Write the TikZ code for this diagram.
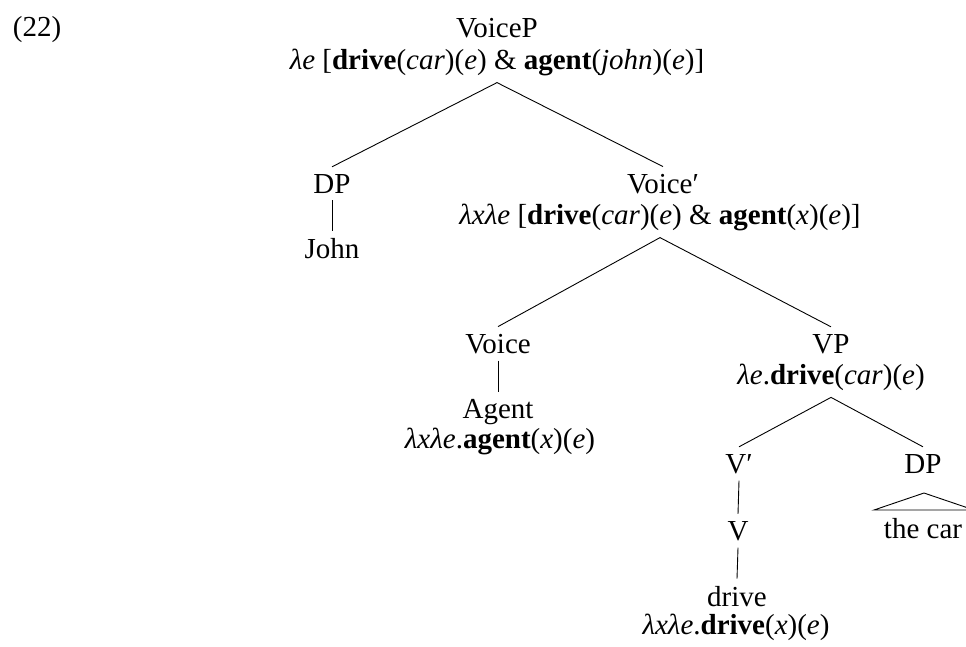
\documentclass[tikz,border=0pt]{standalone}
\usepackage{fontspec}
\setmainfont{Liberation Serif}
\newcommand\lmb{\textit{λ}}
\newcommand\ve{\textit{e}}
\newcommand\vx{\textit{x}}
\begin{document}
\begin{tikzpicture}[x=1pt,y=-1pt,
  lbl/.style={anchor=base,inner xsep=0pt,inner ysep=7pt,font=\fontsize{29}{31}\selectfont},
  branch/.style={line width=0.9pt}]
\useasboundingbox (0,0) rectangle (966,646);
\node[lbl] (ex) at (37,36) {(22)};
% root
\node[lbl] (vp) at (497,37) {VoiceP};
\node[lbl] (vpS) at (497,69) {\lmb\ve\ [\textbf{drive}(\textit{car})(\ve) \& \textbf{agent}(\textit{john})(\ve)]};
% DP John
\node[lbl] (dp1) at (332,193) {DP};
\node[lbl] (john) at (332,258) {John};
% Voice'
\node[lbl] (vbar) at (663,193) {Voice′};
\node[lbl] (vbarS) at (660,224) {\lmb\vx\lmb\ve\ [\textbf{drive}(\textit{car})(\ve) \& \textbf{agent}(\vx)(\ve)]};
% Voice
\node[lbl] (voice) at (498,353) {Voice};
\node[lbl] (agent) at (498,418) {Agent};
\node[lbl] (agentS) at (500,448) {\lmb\vx\lmb\ve.\textbf{agent}(\vx)(\ve)};
% VP
\node[lbl] (vpp) at (831,353) {VP};
\node[lbl] (vppS) at (831,384) {\lmb\ve.\textbf{drive}(\textit{car})(\ve)};
% V'
\node[lbl] (vb) at (739,473) {V′};
\node[lbl] (v) at (738,540) {V};
\node[lbl] (drive) at (737,606) {drive};
\node[lbl] (driveS) at (736,634) {\lmb\vx\lmb\ve.\textbf{drive}(\vx)(\ve)};
% DP the car
\node[lbl] (dp2) at (923,473) {DP};
\node[lbl] (thecar) at (923,538) {the car};
\coordinate (apex) at (924,493);
\coordinate (bl) at (874,510);
\coordinate (br) at (974,510);
% connectors
\draw[branch] (vpS.south) -- (dp1.north);
\draw[branch] (vpS.south) -- (vbar.north);
\draw[branch] (dp1.south) -- (john.north);
\draw[branch] (vbarS.south) -- (voice.north);
\draw[branch] (vbarS.south) -- (vpp.north);
\draw[branch] (voice.south) -- (agent.north);
\draw[branch] (vppS.south) -- (vb.north);
\draw[branch] (vppS.south) -- (dp2.north);
\draw[branch] (vb.south) -- (v.north);
\draw[branch] (v.south) -- (drive.north);
\draw[branch] (apex) -- (bl) -- (br) -- cycle;
\end{tikzpicture}
\end{document}
